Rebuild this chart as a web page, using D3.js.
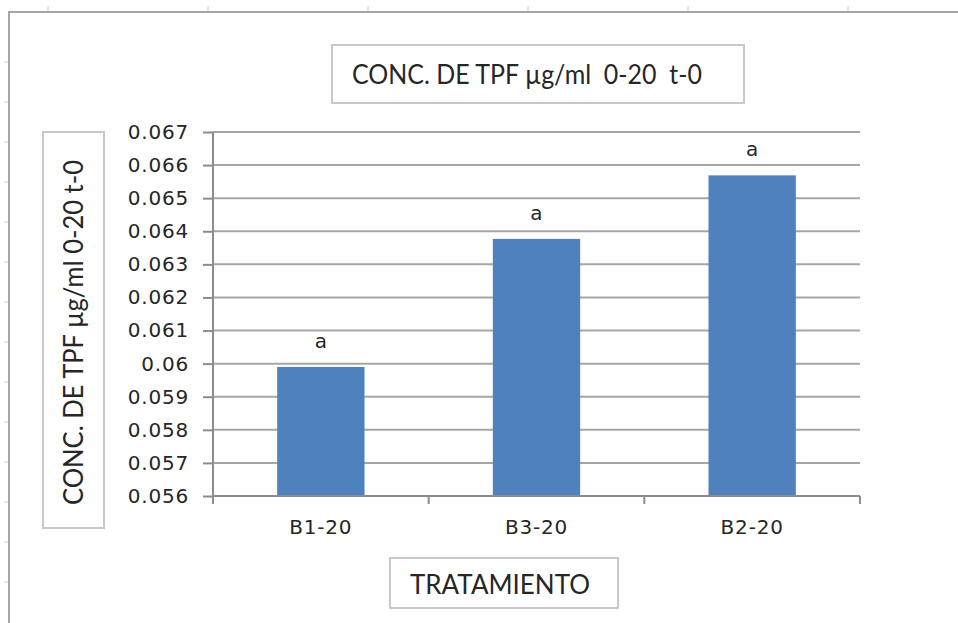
<!DOCTYPE html>
<html><head><meta charset="utf-8">
<script src="https://cdn.jsdelivr.net/npm/d3@7/dist/d3.min.js"></script>
<style>
html,body{margin:0;padding:0;background:#fff;}
svg{display:block;}
</style></head>
<body>
<svg id="chart" width="958" height="623"></svg>
<script>
const categories = ["B1-20", "B3-20", "B2-20"];
const values = [0.0599, 0.06377, 0.06569];
const letters = ["a", "a", "a"];
const yTickValues = [0.056, 0.057, 0.058, 0.059, 0.06, 0.061, 0.062, 0.063, 0.064, 0.065, 0.066, 0.067];
const chartTitle = "CONC. DE TPF \u00b5g/ml\u00a0 0-20\u00a0 t-0";
const yTitle = "CONC. DE TPF \u00b5g/ml 0-20 t-0";
const xTitle = "TRATAMIENTO";

const svg = d3.select("#chart");
const W = 958, H = 623;
const plot = {left: 213, right: 860, top: 132, bottom: 496};
const titleFont = "Lato, 'Open Sans', sans-serif";
const tickFont = "'DejaVu Sans', Verdana, sans-serif";
const textColor = "#262626";

// spreadsheet background marks
const topMarks = [48, 208, 368, 528, 688, 848];
svg.selectAll(".tm").data(topMarks).enter().append("line")
  .attr("x1", d => d).attr("x2", d => d).attr("y1", 6).attr("y2", 12)
  .attr("stroke", "#d0d0d0").attr("stroke-width", 1);
const leftMarks = [62, 102, 142, 182, 222, 262, 302, 342, 382, 422, 462, 502, 542, 582];
svg.selectAll(".lm").data(leftMarks).enter().append("line")
  .attr("x1", 4).attr("x2", 8).attr("y1", d => d).attr("y2", d => d)
  .attr("stroke", "#d0d0d0").attr("stroke-width", 1);

// chart area border
svg.append("path")
  .attr("d", `M9,${H+5} L9,12 L${W+5},12`)
  .attr("fill", "none").attr("stroke", "#a6a6a6").attr("stroke-width", 2);

const x = d3.scaleBand().domain(categories).range([plot.left, plot.right]).padding(0);
const y = d3.scaleLinear().domain([0.056, 0.067]).range([plot.bottom, plot.top]);

// gridlines
svg.append("g").selectAll("line").data(yTickValues.slice(1)).enter().append("line")
  .attr("x1", plot.left).attr("x2", plot.right)
  .attr("y1", d => y(d)).attr("y2", d => y(d))
  .attr("stroke", "#a6a6a6").attr("stroke-width", 2);

// bars
const barW = x.bandwidth() * 0.405;
svg.append("g").selectAll("rect").data(categories).enter().append("rect")
  .attr("x", (d) => x(d) + (x.bandwidth() - barW) / 2)
  .attr("width", barW)
  .attr("y", (d, i) => y(values[i]))
  .attr("height", (d, i) => y(0.056) - y(values[i]))
  .attr("fill", "#4F81BD");

// letters
svg.append("g").selectAll("text").data(categories).enter().append("text")
  .attr("x", d => x(d) + x.bandwidth() / 2)
  .attr("y", (d, i) => y(values[i]) - 19)
  .attr("text-anchor", "middle")
  .attr("font-family", tickFont).attr("font-size", 20)
  .attr("fill", textColor)
  .text((d, i) => letters[i]);

// y axis
const yAxis = svg.append("g").attr("transform", `translate(${plot.left},0)`)
  .call(d3.axisLeft(y).tickValues(yTickValues).tickSize(10).tickPadding(14)
    .tickFormat(d => String(+d.toFixed(3))));
yAxis.select(".domain").attr("stroke", "#8c8c8c").attr("stroke-width", 2)
  .attr("d", `M0,${plot.top}V${plot.bottom}`);
yAxis.selectAll(".tick line").attr("stroke", "#8c8c8c").attr("stroke-width", 2);
yAxis.selectAll(".tick text").attr("font-family", tickFont).attr("font-size", 20)
  .attr("fill", textColor).attr("letter-spacing", 0.8);

// x axis
const xAxis = svg.append("g").attr("transform", `translate(0,${plot.bottom})`)
  .call(d3.axisBottom(x).tickSize(0).tickPadding(24));
xAxis.select(".domain").attr("stroke", "#8c8c8c").attr("stroke-width", 2)
  .attr("d", `M${plot.left},0H${plot.right}`);
xAxis.selectAll(".tick text").attr("font-family", tickFont).attr("font-size", 20)
  .attr("fill", textColor).attr("letter-spacing", 0.8);
const bounds = [plot.left].concat(categories.map(c => x(c) + x.bandwidth()));
xAxis.selectAll(".bt").data(bounds).enter().append("line")
  .attr("x1", d => d).attr("x2", d => d).attr("y1", 0).attr("y2", 8)
  .attr("stroke", "#8c8c8c").attr("stroke-width", 2);

// title box
svg.append("rect").attr("x", 332).attr("y", 45).attr("width", 412).attr("height", 58)
  .attr("fill", "#fff").attr("stroke", "#c8c8c8").attr("stroke-width", 2);
svg.append("text").attr("x", 352).attr("y", 84)
  .attr("font-family", titleFont).attr("font-size", 27).attr("fill", textColor)
  .attr("textLength", 350).attr("lengthAdjust", "spacingAndGlyphs")
  .text(chartTitle);

// y title box
svg.append("rect").attr("x", 43).attr("y", 132).attr("width", 61).attr("height", 396)
  .attr("fill", "#fff").attr("stroke", "#c8c8c8").attr("stroke-width", 2);
svg.append("text").attr("transform", "translate(83,505) rotate(-90)")
  .attr("font-family", titleFont).attr("font-size", 27).attr("fill", textColor)
  .attr("textLength", 345).attr("lengthAdjust", "spacingAndGlyphs")
  .text(yTitle);

// x title box
svg.append("rect").attr("x", 390).attr("y", 558).attr("width", 228).attr("height", 50)
  .attr("fill", "#fff").attr("stroke", "#c8c8c8").attr("stroke-width", 2);
svg.append("text").attr("x", 410).attr("y", 594)
  .attr("font-family", titleFont).attr("font-size", 27).attr("fill", textColor)
  .attr("textLength", 180).attr("lengthAdjust", "spacingAndGlyphs")
  .text(xTitle);
</script>
</body></html>
